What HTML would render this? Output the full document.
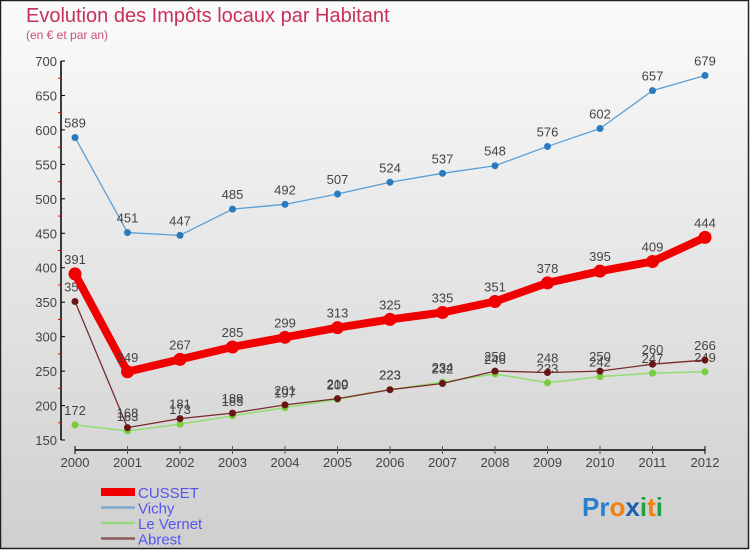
<!DOCTYPE html>
<html><head><meta charset="utf-8"><style>
html,body{margin:0;padding:0;}
body{width:750px;height:550px;overflow:hidden;font-family:"Liberation Sans",sans-serif;}
</style></head><body>
<svg width="750" height="550" xmlns="http://www.w3.org/2000/svg" id="svg">
<defs><linearGradient id="bg" x1="0" y1="0" x2="0" y2="1"><stop offset="0" stop-color="#fbfbfb"/><stop offset="1" stop-color="#cfcfcf"/></linearGradient></defs>
<rect x="0.5" y="0.5" width="748" height="548" fill="url(#bg)" stroke="#222" stroke-width="1.5"/>
<text x="26" y="22" font-size="20" fill="#c8305a">Evolution des Impôts locaux par Habitant</text>
<text x="26" y="39" font-size="12" fill="#c8507a">(en € et par an)</text>
<g id="axes"></g><g id="series"></g><g id="legend"></g>
<g font-size="26" font-weight="bold">
<text x="582" y="516"><tspan fill="#2a7fd0">Pr</tspan><tspan fill="#f08010">o</tspan><tspan fill="#1a5fb0">x</tspan><tspan fill="#20a040">i</tspan><tspan fill="#f08010">t</tspan><tspan fill="#20a040">i</tspan></text>
</g>
</svg>
<script>
const years=[2000,2001,2002,2003,2004,2005,2006,2007,2008,2009,2010,2011,2012];
const yTicks=[150,200,250,300,350,400,450,500,550,600,650,700];
const cusset=[391,249,267,285,299,313,325,335,351,378,395,409,444];
const vichy=[589,451,447,485,492,507,524,537,548,576,602,657,679];
const vernet=[172,163,173,185,197,209,223,234,246,233,242,247,249];
const abrest=[351,168,181,189,201,210,223,232,250,248,250,260,266];
const NS="http://www.w3.org/2000/svg";
const X=i=>75+i*52.5;
const Y=v=>440-(v-150)*(379/550);
function mk(t,a,p){const e=document.createElementNS(NS,t);for(const k in a)e.setAttribute(k,a[k]);p.appendChild(e);return e;}
const ax=document.getElementById('axes');
let yl=mk('line',{x1:61,y1:Y(700),x2:61,y2:440,stroke:'#000','stroke-width':1.5},ax);


yTicks.forEach(v=>{
  mk('line',{x1:61,y1:Y(v),x2:65,y2:Y(v),stroke:'#000'},ax);
  if(v<700)mk('line',{x1:58,y1:Y(v+25),x2:61,y2:Y(v+25),stroke:'#e00'},ax);
  const t=mk('text',{x:57,y:Y(v)+5,'text-anchor':'end','font-size':13,fill:'#444'},ax);
  
  
  t.textContent=v;
});
let xl=mk('line',{x1:X(0),y1:450,x2:X(12),y2:450,stroke:'#000','stroke-width':1.5},ax);


years.forEach((y,i)=>{
  mk('line',{x1:X(i),y1:446,x2:X(i),y2:454,stroke:i==0||i==12?'#000':'#555'},ax);
  const t=mk('text',{x:X(i),y:467,'text-anchor':'middle','font-size':13,fill:'#444'},ax);
  
  
  t.textContent=y;
});
const sg=document.getElementById('series');
function series(name,data,color,w,r,dot){
  const g=mk('g',{},sg);
  
  
  mk('polyline',{points:data.map((v,i)=>X(i)+','+Y(v)).join(' '),fill:'none',stroke:color,'stroke-width':w,'stroke-linejoin':'round'},g);
  data.forEach((v,i)=>{
    const c=mk('circle',{cx:X(i),cy:Y(v),r:r,fill:dot},g);
    
    
    const t=mk('text',{x:X(i),y:Y(v)-10,'text-anchor':'middle','font-size':13,fill:'#444'},g);
    
    
    t.textContent=v;
  });
}
series('vichy',vichy,'#5b9fd6',1.3,3.5,'#2a7ac0');
series('le-vernet',vernet,'#90dd70',1.5,3.5,'#7acc40');
series('abrest',abrest,'#7a2a2a',1.3,3.5,'#6a1515');
series('cusset',cusset,'#f00000',8,6.5,'#f00000');
const lg=document.getElementById('legend');
const names=['CUSSET','Vichy','Le Vernet','Abrest'];
const cols=['#f00000','#7aaad0','#9ad880','#8a5a5a'];
const ws=[8,2.5,2.5,2.5];
names.forEach((n,i)=>{
  const y=492+i*15.5;
  const g=mk('g',{},lg);
  
  
  mk('line',{x1:101,y1:y,x2:135,y2:y,stroke:cols[i],'stroke-width':ws[i]},g);
  const t=mk('text',{x:138,y:y+6,'font-size':15,fill:'#5555ee'},g);
  t.textContent=n;
});
</script>
</body></html>
